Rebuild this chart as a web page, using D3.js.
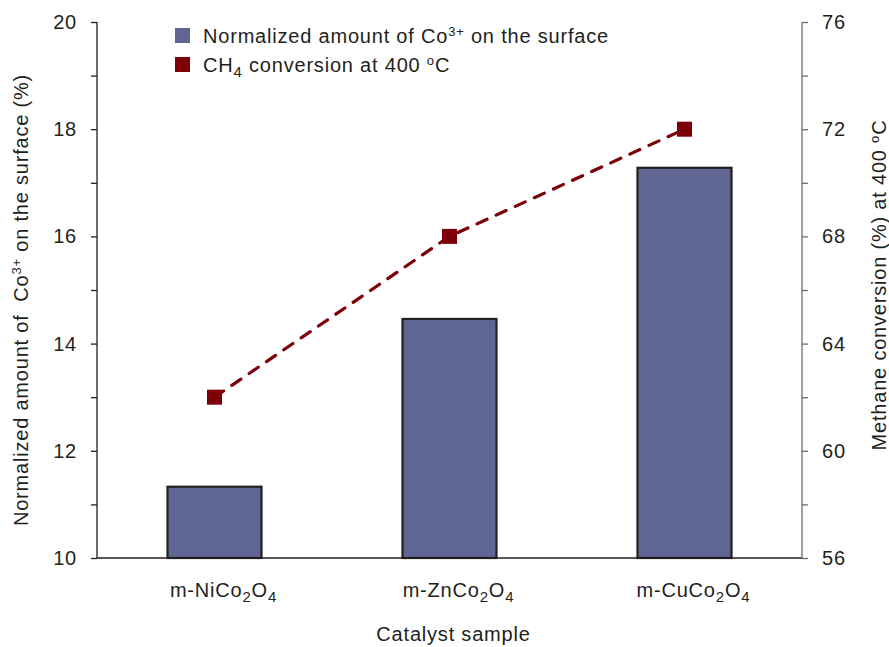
<!DOCTYPE html>
<html>
<head>
<meta charset="utf-8">
<script src="https://cdn.jsdelivr.net/npm/d3@7"></script>
<style>
  body { margin: 0; background: #fff; }
  svg { display: block; font-family: "Liberation Sans", Arial, sans-serif; }
  text { fill: #231f20; letter-spacing: 0.8px; white-space: pre; }
</style>
</head>
<body>
<svg id="chart" width="889" height="647"></svg>
<script>
// Catalysts and measured values
const categories = ["NiCo", "ZnCo", "CuCo"];
const categoryLabels = [
  ["m-Ni", "Co", "2", "O", "4"],
  ["m-Zn", "Co", "2", "O", "4"],
  ["m-Cu", "Co", "2", "O", "4"]
];
const co3Amount = [11.33, 14.46, 17.28];      // normalized Co3+ on surface (%)
const ch4Conversion = [62, 68, 72];           // CH4 conversion at 400 °C (%)
const leftTicks = [10, 12, 14, 16, 18, 20];
const leftMinor = [11, 13, 15, 17, 19];
const rightTicks = [56, 60, 64, 68, 72, 76];
const rightMinor = [58, 62, 66, 70, 74];

const svg = d3.select("#chart");
const m = { left: 97, right: 802, top: 22, bottom: 558 };
const FS = 20, SUB = 15;

const x = d3.scaleBand().domain(categories).range([m.left, m.right]).paddingInner(0.6).paddingOuter(0.3);
const yL = d3.scaleLinear().domain([10, 20]).range([m.bottom, m.top]);
const yR = d3.scaleLinear().domain([56, 76]).range([m.bottom, m.top]);

const barColor = "#5f6693";
const lineColor = "#7d0008";

// Bars
svg.append("g").selectAll("rect").data(categories).join("rect")
  .attr("x", d => x(d))
  .attr("width", x.bandwidth())
  .attr("y", (d, i) => yL(co3Amount[i]))
  .attr("height", (d, i) => yL(10) - yL(co3Amount[i]))
  .attr("fill", barColor)
  .attr("stroke", "#231f20")
  .attr("stroke-width", 2.2);

// Baseline
svg.append("line").attr("x1", m.left).attr("x2", m.right)
  .attr("y1", m.bottom).attr("y2", m.bottom)
  .attr("stroke", "#231f20").attr("stroke-width", 1.3);

// Left axis
const gL = svg.append("g").attr("transform", `translate(${m.left},0)`)
  .call(d3.axisLeft(yL).tickValues(leftTicks).tickSize(6).tickPadding(14).tickFormat(d3.format("d")));
gL.append("g").call(d3.axisLeft(yL).tickValues(leftMinor).tickSize(6).tickFormat(""))
  .select(".domain").remove();
gL.selectAll(".domain").attr("stroke", "#231f20").attr("stroke-width", 1.3).attr("d", `M0,${m.bottom}V${m.top}`);
gL.selectAll(".tick line").attr("stroke", "#231f20").attr("stroke-width", 1.3);
gL.selectAll(".tick text").attr("font-size", FS).attr("fill", "#231f20").attr("font-family", "Liberation Sans, Arial, sans-serif");

// Right axis
const gR = svg.append("g").attr("transform", `translate(${m.right},0)`)
  .call(d3.axisRight(yR).tickValues(rightTicks).tickSize(6).tickPadding(14).tickFormat(d3.format("d")));
gR.append("g").call(d3.axisRight(yR).tickValues(rightMinor).tickSize(6).tickFormat(""))
  .select(".domain").remove();
gR.selectAll(".domain").attr("stroke", "#6d6d6d").attr("stroke-width", 1.3).attr("d", `M0,${m.bottom}V${m.top}`);
gR.selectAll(".tick line").attr("stroke", "#6d6d6d").attr("stroke-width", 1.3);
gR.selectAll(".tick text").attr("font-size", FS).attr("fill", "#231f20").attr("font-family", "Liberation Sans, Arial, sans-serif");

// Category labels with subscripts
categories.forEach((c, i) => {
  const parts = categoryLabels[i];
  const t = svg.append("text").attr("x", x(c) + x.bandwidth() / 2 + 9).attr("y", 597)
    .attr("text-anchor", "middle").attr("font-size", FS);
  t.append("tspan").text(parts[0] + parts[1]);
  t.append("tspan").text(parts[2]).attr("font-size", SUB).attr("dy", 5);
  t.append("tspan").text(parts[3]).attr("dy", -5);
  t.append("tspan").text(parts[4]).attr("font-size", SUB).attr("dy", 5);
});

// X axis title
svg.append("text").attr("x", x(categories[1]) + x.bandwidth() / 2 + 4).attr("y", 641)
  .attr("text-anchor", "middle").attr("font-size", FS).text("Catalyst sample");

// Left axis title
const tl = svg.append("text").attr("transform", `translate(28,300) rotate(-90)`)
  .attr("text-anchor", "middle").attr("font-size", FS);
tl.append("tspan").text("Normalized amount of  Co");
tl.append("tspan").text("3+").attr("font-size", 13).attr("dy", -7);
tl.append("tspan").text(" on the surface (%)").attr("dy", 7);

// Right axis title
const tr = svg.append("text").attr("transform", `translate(886,285) rotate(-90)`)
  .attr("text-anchor", "middle").attr("font-size", FS);
tr.append("tspan").text("Methane conversion (%) at 400 ");
tr.append("tspan").text("o").attr("font-size", 13).attr("dy", -7);
tr.append("tspan").text("C").attr("dy", 7);

// Conversion line and markers
const pts = categories.map((c, i) => [x(c) + x.bandwidth() / 2, yR(ch4Conversion[i])]);
svg.append("path").attr("d", d3.line()(pts))
  .attr("fill", "none").attr("stroke", lineColor).attr("stroke-width", 3.2)
  .attr("stroke-dasharray", "11,10").attr("stroke-linecap", "round");
svg.append("g").selectAll("rect").data(pts).join("rect")
  .attr("x", d => d[0] - 7.5).attr("y", d => d[1] - 7.5)
  .attr("width", 15).attr("height", 15).attr("fill", lineColor);

// Legend
const lg = svg.append("g");
lg.append("rect").attr("x", 175).attr("y", 28).attr("width", 15).attr("height", 15).attr("fill", barColor);
lg.append("rect").attr("x", 175).attr("y", 57).attr("width", 15).attr("height", 15).attr("fill", lineColor);
const l1 = lg.append("text").attr("x", 203).attr("y", 43).attr("font-size", FS);
l1.append("tspan").text("Normalized amount of Co");
l1.append("tspan").text("3+").attr("font-size", 13).attr("dy", -7);
l1.append("tspan").text(" on the surface").attr("dy", 7);
const l2 = lg.append("text").attr("x", 203).attr("y", 72).attr("font-size", FS);
l2.append("tspan").text("CH");
l2.append("tspan").text("4").attr("font-size", SUB).attr("dy", 5);
l2.append("tspan").text(" conversion at 400 ").attr("dy", -5);
l2.append("tspan").text("o").attr("font-size", 13).attr("dy", -7);
l2.append("tspan").text("C").attr("dy", 7);
</script>
</body>
</html>
